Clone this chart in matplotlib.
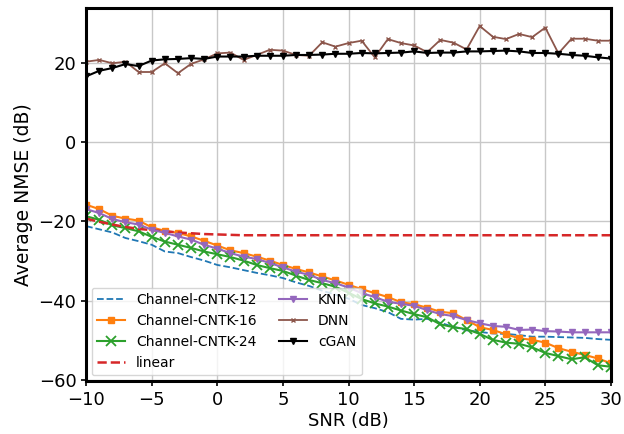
import numpy as np
import matplotlib
matplotlib.use("Agg")
import matplotlib.pyplot as plt

# SNR grid (dB)
snr = np.arange(-10, 31)

# Average NMSE (dB)
cntk12 = [-21.2, -22.0, -22.8, -24.2, -25.0, -25.9, -27.6, -28.0, -29.0, -29.9,
          -31.0, -31.6, -32.3, -33.0, -33.6, -34.3, -35.4, -36.3, -37.5, -38.5,
          -39.5, -41.1, -41.9, -42.9, -44.6, -44.8, -44.6, -45.6, -46.6, -47.5,
          -47.9, -48.3, -48.4, -48.7, -49.1, -49.1, -49.2, -49.3, -49.4, -49.7,
          -49.9]
cntk16 = [-15.8, -16.9, -18.6, -19.3, -19.8, -21.5, -22.4, -22.9, -23.8, -24.9,
          -26.1, -27.3, -28.0, -28.9, -29.9, -31.0, -32.0, -32.9, -33.9, -34.9,
          -36.0, -37.1, -38.1, -39.1, -40.4, -40.9, -41.8, -42.8, -43.2, -44.9,
          -46.7, -47.4, -48.5, -49.5, -49.9, -50.6, -52.0, -52.9, -53.7, -54.6,
          -55.8]
cntk24 = [-18.7, -19.6, -21.0, -21.7, -22.5, -23.9, -25.1, -25.9, -26.7, -27.6,
          -28.3, -29.0, -29.9, -31.0, -31.8, -32.5, -33.7, -34.8, -35.6, -36.5,
          -38.0, -39.6, -40.7, -41.5, -42.5, -43.4, -44.2, -46.0, -46.7, -47.2,
          -48.4, -49.9, -50.6, -50.9, -51.8, -53.2, -54.0, -54.8, -54.3, -56.3,
          -56.7]
linear = [-19.3, -20.1, -20.8, -21.4, -21.9, -22.2, -22.5, -22.8, -23.0, -23.2,
          -23.3, -23.4, -23.5, -23.5, -23.5, -23.5, -23.5, -23.5, -23.5, -23.5,
          -23.5, -23.5, -23.5, -23.5, -23.5, -23.5, -23.5, -23.5, -23.5, -23.5,
          -23.5, -23.5, -23.5, -23.5, -23.5, -23.5, -23.5, -23.5, -23.5, -23.5,
          -23.5]
knn = [-16.9, -17.9, -19.4, -20.2, -20.8, -22.1, -22.9, -23.8, -24.6, -25.9,
       -26.9, -28.0, -28.9, -29.5, -30.5, -31.6, -32.7, -33.5, -34.8, -35.6,
       -36.7, -38.1, -39.1, -40.3, -40.8, -41.3, -42.4, -43.4, -43.9, -44.9,
       -45.7, -46.4, -46.6, -47.4, -47.3, -47.7, -47.8, -48.0, -48.0, -48.0,
       -48.0]
dnn = [20.3, 20.75, 19.9, 20.3, 17.7, 17.7, 19.9, 17.4, 19.75, 20.9,
       22.4, 22.6, 20.75, 22.0, 23.3, 23.1, 22.0, 21.8, 25.2, 24.1,
       25.0, 25.6, 21.4, 26.0, 25.0, 24.4, 22.7, 25.8, 25.1, 23.4,
       29.3, 26.6, 26.0, 27.3, 26.5, 28.9, 22.4, 26.1, 26.1, 25.6,
       25.6]
cgan = [16.6, 18.0, 18.7, 19.7, 19.2, 20.6, 20.9, 21.0, 21.2, 21.0,
        21.6, 21.6, 21.6, 21.8, 21.8, 21.8, 22.0, 22.0, 22.1, 22.3,
        22.3, 22.5, 22.4, 22.5, 22.6, 22.9, 22.5, 22.6, 22.6, 22.9,
        22.9, 23.0, 23.1, 22.9, 22.5, 22.5, 22.3, 22.0, 21.8, 21.4,
        21.1]

fig = plt.figure(figsize=(6.24, 4.34), dpi=100)
ax = fig.add_axes([0.138, 0.122, 0.841, 0.86])

ax.plot(snr, cntk12, '--', color='tab:blue', lw=1.3, label='Channel-CNTK-12')
ax.plot(snr, cntk16, '-s', color='tab:orange', lw=1.5, ms=4.5, label='Channel-CNTK-16')
ax.plot(snr, cntk24, '-x', color='tab:green', lw=1.5, ms=7, mew=1.3, label='Channel-CNTK-24')
ax.plot(snr, linear, '--', color='tab:red', lw=1.8, label='linear')
ax.plot(snr, knn, '-v', color='tab:purple', lw=1.5, ms=5, label='KNN')
ax.plot(snr, dnn, '-x', color='tab:brown', lw=1.3, ms=3.5, mew=1, label='DNN')
ax.plot(snr, cgan, '-v', color='black', lw=1.5, ms=4.5, label='cGAN')

ax.set_xlim(-10, 30)
ax.set_ylim(-60.3, 33.9)
ax.set_xticks([-10, -5, 0, 5, 10, 15, 20, 25, 30])
ax.set_yticks([-60, -40, -20, 0, 20])
ax.grid(True, color='#c8c8c8', lw=1)
ax.set_axisbelow(True)

for sp in ax.spines.values():
    sp.set_linewidth(2.2)
    sp.set_color('black')

ax.tick_params(labelsize=13, width=1.2)
ax.set_xlabel('SNR (dB)', fontsize=13, labelpad=2)
ax.set_ylabel('Average NMSE (dB)', fontsize=13.5, labelpad=4)

ax.legend(ncol=2, loc='lower left', fontsize=10, handlelength=2.0,
          columnspacing=1.6, borderaxespad=0.4)

fig.savefig('out.png', dpi=100, facecolor='white')
